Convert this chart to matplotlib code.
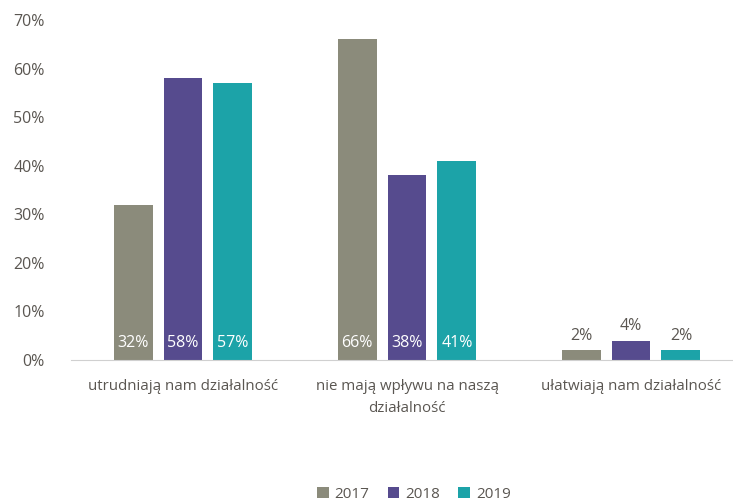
import numpy as np
import matplotlib
matplotlib.use("Agg")
import matplotlib.pyplot as plt
from matplotlib.patches import Patch

# survey answers per year (percent)
categories = ["utrudniają nam działalność", "nie mają wpływu na naszą\ndziałalność", "ułatwiają nam działalność"]
years = ["2017", "2018", "2019"]
values_2017 = [32, 66, 2]
values_2018 = [58, 38, 4]
values_2019 = [57, 41, 2]
yticks = [0, 10, 20, 30, 40, 50, 60, 70]

colors = ["#8b8b7b", "#564b8e", "#1ca3a8"]
text_color = "#5a5651"

plt.rcParams['font.family'] = ['Open Sans', 'DejaVu Sans']

fig = plt.figure(figsize=(7.33, 5.03), dpi=100)
ax = fig.add_axes([71 / 733, (503 - 360) / 503, 672 / 733, 340 / 503])

x = np.arange(len(categories))
width = 0.174
step = 0.223
series = [values_2017, values_2018, values_2019]

for i, vals in enumerate(series):
    pos = x + (i - 1) * step
    ax.bar(pos, vals, width, color=colors[i], zorder=2)
    for p, v in zip(pos, vals):
        if v > 10:
            ax.text(p, 3.4, f"{v}%", ha='center', va='center', color='white', fontsize=11.5)
        else:
            ax.text(p, v + 3.0, f"{v}%", ha='center', va='center', color=text_color, fontsize=11.5)

ax.set_xlim(-0.5, 2.5)
ax.set_ylim(0, 70)
ax.set_yticks(yticks)
ax.set_yticklabels([f"{t}%" for t in yticks], color=text_color, fontsize=11.5)
ax.set_xticks(x)
ax.set_xticklabels(categories, color=text_color, fontsize=10.8, linespacing=1.6, va='top')

for s in ['top', 'right', 'left']:
    ax.spines[s].set_visible(False)
ax.spines['bottom'].set_color('#d0d0d0')
ax.tick_params(axis='both', length=0)
ax.tick_params(axis='y', pad=19)
ax.tick_params(axis='x', pad=14)

handles = [Patch(facecolor=c) for c in colors]
fig.legend(handles, years, loc='center', bbox_to_anchor=(414 / 733, 1 - 494 / 503),
           ncol=3, frameon=False, fontsize=11, labelcolor=text_color,
           handlelength=0.75, handleheight=0.75, handletextpad=0.4, columnspacing=1.2)

fig.savefig("out.png", dpi=100)
